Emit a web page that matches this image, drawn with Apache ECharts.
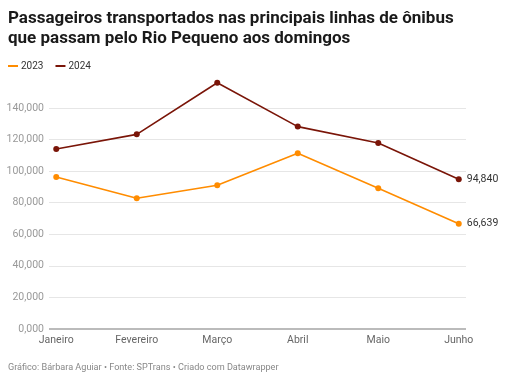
<!DOCTYPE html>
<html><head><meta charset="utf-8">
<script src="https://cdn.jsdelivr.net/npm/echarts@6/dist/echarts.min.js"></script>
<style>html,body{margin:0;padding:0;background:#fff}#c{width:512px;height:382px}</style>
</head><body><div id="c"></div>
<script>
const months = ['Janeiro','Fevereiro','Março','Abril','Maio','Junho'];
const values2023 = [96300, 82800, 91000, 111300, 89100, 66639];
const values2024 = [114000, 123300, 156000, 128200, 117800, 94840];
const yTicks = [0, 20000, 40000, 60000, 80000, 100000, 120000, 140000];

const fmt = v => v === 0 ? '0,000' : v.toLocaleString('en-US');
const toPairs = arr => arr.map((v, i) => [i, v]);
const font = 'Roboto, sans-serif';

const chart = echarts.init(document.getElementById('c'), null, {renderer: 'canvas'});
chart.setOption({
  animation: false,
  backgroundColor: '#fff',
  title: [{
    text: 'Passageiros transportados nas principais linhas de ônibus\nque passam pelo Rio Pequeno aos domingos',
    left: 3, top: 4,
    textStyle: {fontFamily: font, fontSize: 17, fontWeight: 'bold', color: '#1a1a1a', lineHeight: 20}
  }, {
    text: 'Gráfico: Bárbara Aguiar • Fonte: SPTrans • Criado com Datawrapper',
    left: 3, top: 358,
    textStyle: {fontFamily: font, fontSize: 9.1, fontWeight: 'normal', color: '#888'}
  }],
  legend: {
    left: 3, top: 56, itemGap: 12, itemWidth: 10, itemHeight: 2, icon: 'rect',
    textStyle: {fontFamily: font, fontSize: 10, color: '#333', padding: [0,0,0,-2]},
    data: ['2023', '2024']
  },
  grid: {left: 49, right: 46, top: 76.4, bottom: 53, containLabel: false},
  xAxis: {
    type: 'value', min: -0.09, max: 5.09,
    splitLine: {show: false}, axisLine: {show: false}, axisTick: {show: false},
    axisLabel: {customValues: [0,1,2,3,4,5], formatter: v => months[Math.round(v)],
      fontFamily: font, fontSize: 10.5, color: '#666', margin: 6}
  },
  yAxis: {
    type: 'value', min: 0, max: 160000,
    axisLine: {show: false}, axisTick: {show: false},
    splitLine: {show: false},
    axisLabel: {customValues: yTicks, formatter: fmt, fontFamily: font, fontSize: 10.5, color: '#999', margin: 5}
  },
  series: [{
    name: '2023', type: 'line', data: toPairs(values2023), z: 3,
    symbol: 'circle', symbolSize: 6, color: '#ff8c00',
    lineStyle: {width: 1.6, color: '#ff8c00'},
    label: {show: true, position: 'right', distance: 5, fontFamily: font, fontSize: 10.5, color: '#333',
      formatter: p => p.dataIndex === 5 ? fmt(p.value[1]) : ''},
    markLine: {silent: true, symbol: 'none', label: {show: false}, z: 1,
      lineStyle: {color: '#e6e6e6', width: 1, type: 'solid'},
      data: yTicks.map(v => v === 0
        ? {yAxis: v, lineStyle: {color: '#bbb', width: 2, type: 'solid'}}
        : {yAxis: v})}
  }, {
    name: '2024', type: 'line', data: toPairs(values2024), z: 3,
    symbol: 'circle', symbolSize: 6, color: '#7a1508',
    lineStyle: {width: 1.6, color: '#7a1508'},
    label: {show: true, position: 'right', distance: 5, fontFamily: font, fontSize: 10.5, color: '#333',
      formatter: p => p.dataIndex === 5 ? fmt(p.value[1]) : ''}
  }]
});
</script></body></html>
